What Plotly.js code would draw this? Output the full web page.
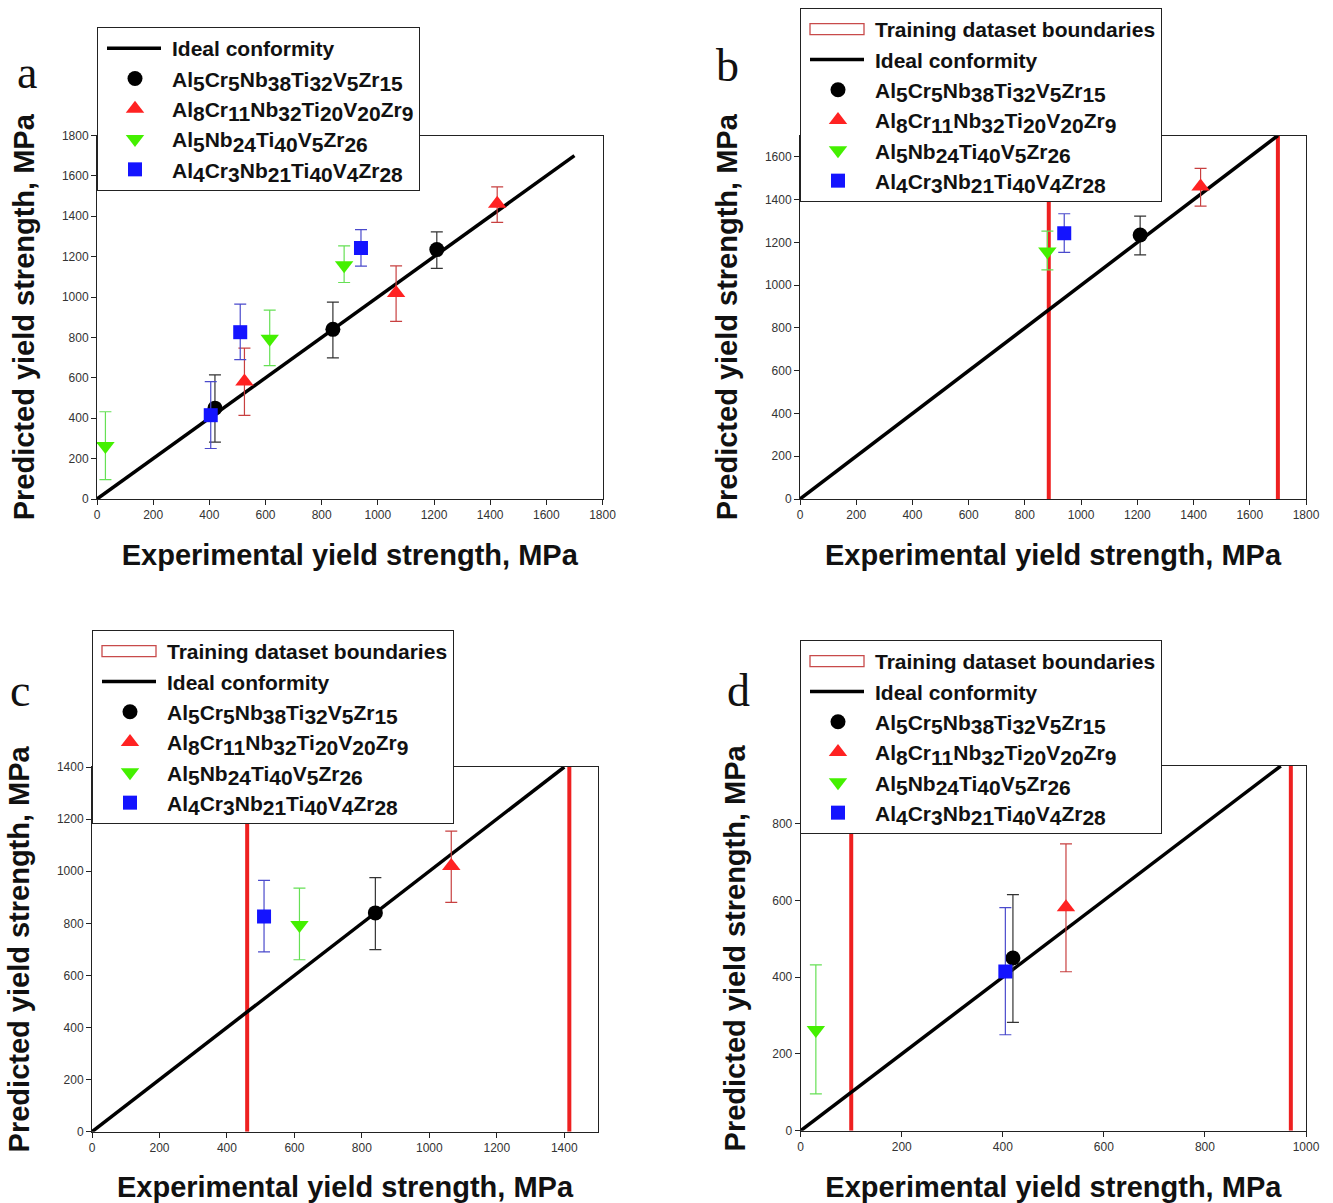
<!DOCTYPE html>
<html>
<head>
<meta charset="utf-8">
<script src="https://cdn.plot.ly/plotly-3.0.1.min.js"></script>
<style>
  html, body { margin: 0; padding: 0; background: #fff; }
  #chart { width: 1333px; height: 1203px; }
</style>
</head>
<body>
<div id="chart"></div>
<script>
// ---------------- data ----------------
// Each alloy has three points: index 0 -> panel d, 1 -> panel c, 2 -> panel b; panel a shows all.
const S = t => '<sub><span style="font-size:21px">' + t + '</span></sub>';
const seriesNames = [
  'Al' + S('5') + 'Cr' + S('5') + 'Nb' + S('38') + 'Ti' + S('32') + 'V' + S('5') + 'Zr' + S('15'),
  'Al' + S('8') + 'Cr' + S('11') + 'Nb' + S('32') + 'Ti' + S('20') + 'V' + S('20') + 'Zr' + S('9'),
  'Al' + S('5') + 'Nb' + S('24') + 'Ti' + S('40') + 'V' + S('5') + 'Zr' + S('26'),
  'Al' + S('4') + 'Cr' + S('3') + 'Nb' + S('21') + 'Ti' + S('40') + 'V' + S('4') + 'Zr' + S('28')
];
// experimental (x)
const expBlack = [420, 840, 1210];
const expRed   = [525, 1065, 1425];
const expGreen = [30, 615, 880];
const expBlue  = [405, 510, 940];
// predicted (y)
const predBlack = [450, 840, 1235];
const predRed   = [582, 1020, 1462];
const predGreen = [262, 793, 1158];
const predBlue  = [415, 826, 1243];
// error bar upper ends
const upBlack = [615, 975, 1323];
const upRed   = [747, 1154, 1546];
const upGreen = [432, 935, 1253];
const upBlue  = [581, 965, 1334];
// error bar lower ends
const loBlack = [282, 699, 1142];
const loRed   = [414, 880, 1370];
const loGreen = [96, 660, 1072];
const loBlue  = [250, 690, 1153];

// ideal-conformity line end points per panel
const idealA = [0, 1700];
const idealB = [0, 1700];
const idealC = [0, 1400];
const idealD = [0, 950];
// training dataset boundaries per panel
const boundsB = [885, 1700];
const boundsC = [460, 1415];
const boundsD = [100, 970];
// axis ranges per panel
const rangeXA = [0, 1800], rangeYA = [0, 1800];
const rangeXB = [0, 1800], rangeYB = [0, 1700];
const rangeXC = [0, 1500], rangeYC = [0, 1400];
const rangeXD = [0, 1000], rangeYD = [0, 950];

const panelLetters = ['a', 'b', 'c', 'd'];
const xTitle = 'Experimental yield strength, MPa';
const yTitle = 'Predicted yield strength, MPa';
const legendBoundaryName = 'Training dataset boundaries';
const legendIdealName = 'Ideal conformity';

// ---------------- styling ----------------
const FONT = '"Liberation Sans", Arial, sans-serif';
const BOUND_COLOR = 'rgb(238, 32, 32)';
const styles = [
  {sym: 'circle',        size: 15, color: '#000000', err: '#333333'},
  {sym: 'triangle-up',   size: 16, color: '#ff2222', err: '#c84040'},
  {sym: 'triangle-down', size: 16, color: '#44f000', err: '#66e055'},
  {sym: 'square',        size: 14, color: '#1414ff', err: '#4a4acc'}
];
const expAll = [expBlack, expRed, expGreen, expBlue];
const predAll = [predBlack, predRed, predGreen, predBlue];
const upAll = [upBlack, upRed, upGreen, upBlue];
const loAll = [loBlack, loRed, loGreen, loBlue];

const traces = [];

function addPanel(ax, legendId, idxList, ideal, bounds, yTop) {
  const xa = 'x' + ax, ya = 'y' + ax;
  if (bounds) {
    traces.push({
      type: 'scatter', mode: 'lines', name: legendBoundaryName,
      x: [bounds[0], bounds[0], null, bounds[1], bounds[1]],
      y: [0, yTop, null, 0, yTop],
      line: {color: BOUND_COLOR, width: 4},
      xaxis: xa, yaxis: ya, legend: legendId, hoverinfo: 'skip'
    });
  }
  traces.push({
    type: 'scatter', mode: 'lines', name: legendIdealName,
    x: ideal, y: ideal,
    line: {color: '#000000', width: 3.5},
    xaxis: xa, yaxis: ya, legend: legendId
  });
  for (let s = 0; s < 4; s++) {
    const xs = idxList.map(i => expAll[s][i]);
    const ys = idxList.map(i => predAll[s][i]);
    const ep = idxList.map(i => upAll[s][i] - predAll[s][i]);
    const em = idxList.map(i => predAll[s][i] - loAll[s][i]);
    traces.push({
      type: 'scatter', mode: 'markers', name: seriesNames[s],
      x: xs, y: ys,
      marker: {symbol: styles[s].sym, size: styles[s].size, color: styles[s].color,
               line: {width: 0}},
      error_y: {type: 'data', symmetric: false, array: ep, arrayminus: em,
                color: styles[s].err, thickness: 1.2, width: 6},
      xaxis: xa, yaxis: ya, legend: legendId
    });
  }
}

addPanel('', 'legend', [0, 1, 2], idealA, null, rangeYA[1]);
addPanel('2', 'legend2', [2], idealB, boundsB, rangeYB[1]);
addPanel('3', 'legend3', [1], idealC, boundsC, rangeYC[1]);
addPanel('4', 'legend4', [0], idealD, boundsD, rangeYD[1]);

const W = 1333, H = 1203;
const px = v => v / W;
const py = v => 1 - v / H;

function xAxis(domain, anchor, range) {
  return {
    domain: domain, anchor: anchor, range: range, tick0: 0, dtick: 200,
    showline: true, linecolor: '#222', linewidth: 1, mirror: true,
    ticks: 'outside', ticklen: 5, tickcolor: '#222', showgrid: false, zeroline: false,
    tickfont: {family: FONT, size: 12, color: '#333'},
    title: {text: xTitle, font: {family: FONT, size: 29, color: '#111', weight: 'bold'}, standoff: 23},
    automargin: false, fixedrange: true
  };
}
function yAxis(domain, anchor, range) {
  return {
    domain: domain, anchor: anchor, range: range, tick0: 0, dtick: 200,
    showline: true, linecolor: '#222', linewidth: 1, mirror: true,
    ticks: 'outside', ticklen: 5, tickcolor: '#222', showgrid: false, zeroline: false,
    tickfont: {family: FONT, size: 12, color: '#333'},
    title: {text: yTitle, font: {family: FONT, size: 29, color: '#111', weight: 'bold'}, standoff: 18},
    automargin: false, fixedrange: true
  };
}
function legend(x, yTop) {
  return {
    x: px(x), y: py(yTop), xanchor: 'left', yanchor: 'top',
    bgcolor: '#ffffff', bordercolor: '#222', borderwidth: 1,
    font: {family: FONT, size: 21, color: '#111', weight: 'bold'},
    itemwidth: 64, tracegroupgap: 0
  };
}

const letterPos = [[27, 72], [727, 65], [20, 690], [738, 690]];

const layout = {
  width: W, height: H,
  margin: {l: 0, r: 0, t: 0, b: 0},
  paper_bgcolor: '#ffffff', plot_bgcolor: '#ffffff',
  showlegend: true,
  xaxis:  xAxis([px(97), px(602.5)], 'y', rangeXA),
  yaxis:  yAxis([py(499), py(135.5)], 'x', rangeYA),
  xaxis2: xAxis([px(800), px(1306)], 'y2', rangeXB),
  yaxis2: yAxis([py(499), py(135.5)], 'x2', rangeYB),
  xaxis3: xAxis([px(92), px(598)], 'y3', rangeXC),
  yaxis3: yAxis([py(1131.7), py(767)], 'x3', rangeYC),
  xaxis4: xAxis([px(800.7), px(1306)], 'y4', rangeXD),
  yaxis4: yAxis([py(1130.7), py(766)], 'x4', rangeYD),
  legend:  legend(97, 27),
  legend2: legend(800, 8),
  legend3: legend(92, 630),
  legend4: legend(800, 640),
  annotations: panelLetters.map((t, i) => ({
    text: t, xref: 'paper', yref: 'paper',
    x: px(letterPos[i][0]), y: py(letterPos[i][1]),
    xanchor: 'center', yanchor: 'middle', showarrow: false,
    font: {family: '"Liberation Serif", "Times New Roman", serif', size: 46, color: '#111'}
  }))
};

// legend symbols: open dark-red rectangle for the boundaries, longer line for ideal conformity
function fixLegendIcons() {
  const gd = document.getElementById('chart');
  gd.querySelectorAll('g.traces').forEach(tr => {
    const label = tr.textContent || '';
    tr.querySelectorAll('path.js-line').forEach(p => {
      const stroke = (p.style.stroke || p.getAttribute('stroke') || '').replace(/\s/g, '');
      const isBound = label.indexOf('Training') >= 0 || stroke === 'rgb(238,32,32)' ||
                      p.getAttribute('data-bound') === '1';
      if (isBound) {
        p.setAttribute('data-bound', '1');
        p.setAttribute('d', 'M9,-5.5h54v11h-54z');
        p.style.fill = '#ffffff';
        p.style.stroke = '#c84a4a';
        p.style.strokeWidth = '1.3px';
      } else if (label.indexOf('Ideal') >= 0) {
        p.setAttribute('d', 'M9,0h54');
      }
    });
  });
}

Plotly.newPlot('chart', traces, layout, {staticPlot: true, displayModeBar: false}).then(() => {
  fixLegendIcons();
});
fixLegendIcons();
setInterval(fixLegendIcons, 100);
</script>
</body>
</html>
